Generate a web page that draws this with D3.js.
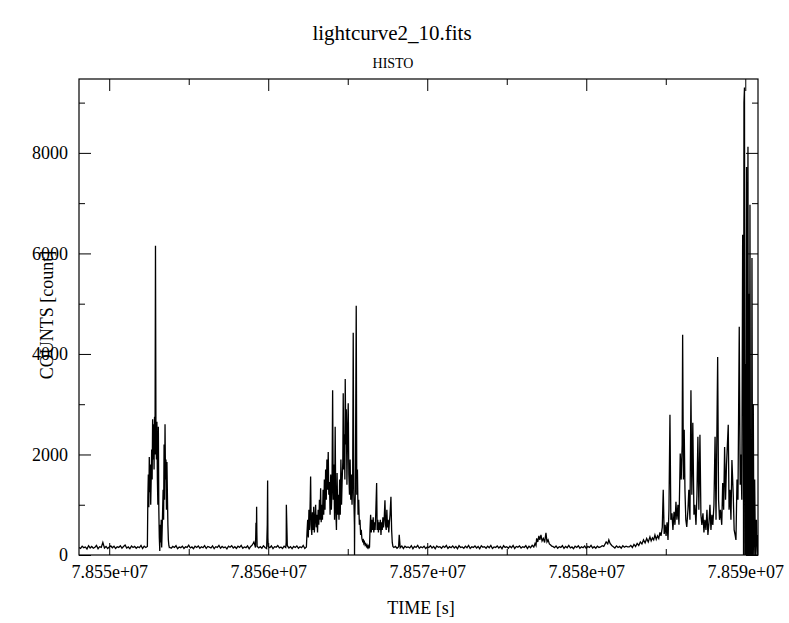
<!DOCTYPE html>
<html>
<head>
<meta charset="utf-8">
<script src="https://cdn.jsdelivr.net/npm/d3@7"></script>
<style>
  html, body { margin: 0; padding: 0; background: #fff; }
  svg { display: block; }
  svg text { font-family: "Liberation Serif", "Times New Roman", serif; fill: #000; }
</style>
</head>
<body>
<svg id="chart" width="789" height="623"></svg>
<script>
// ---------------- DATA ----------------
const chartTitle = "lightcurve2_10.fits";
const chartSubtitle = "HISTO";
const xAxisTitle = "TIME [s]";
const yAxisTitle = "COUNTS [count]";
const timeBase = 78550000; // seconds; offsets below are relative to this
const xDomain = [78548100, 78590800];
const yDomain = [0, 9470];
const xTickValues = [78550000, 78560000, 78570000, 78580000, 78590000];
const xTickLabels = ["7.855e+07", "7.856e+07", "7.857e+07", "7.858e+07", "7.859e+07"];
const xMinorValues = [78555000, 78565000, 78575000, 78585000];
const yTickValues = [0, 2000, 4000, 6000, 8000];
const yTickLabels = ["0", "2000", "4000", "6000", "8000"];
const yMinorValues = [1000, 3000, 5000, 7000, 9000];

// Quiet stretches: uniform bins (bin width quietStep s) starting at the given offset
const quietStep = 100;
const quiet1Start = -1900;
const quiet1 = [150,130,175,145,160,120,185,140,170,135,155,190,125,165,150,250,140,170,130,160,180,145,175,130,165,150,185,135,170,200,140,160,125,180,150,170,135,165,145,190,130,175,150];
const quiet2Start = 3800;
const quiet2 = [155,135,170,150,185,125,160,145,175,130,
  165,150,195,140,160,125,175,150,180,135,
  165,145,185,130,170,155,140,180,125,165,
  150,190,135,170,145,160,120,175,155,185,
  140,165,130,175,150,190,135,160,145,180,
  125,170,200,260,150,175,140,165,135,185,
  150,130,170,145,180,125,165,155,190,140,
  160,130,175,150,185,140,165,125,170,150,
  180,135,165,145,190,130];
const quiet3Start = 17900;
const quiet3 = [150,170,135,165,145,180,130,175,150,160,
  140,185,125,170,150,190,135,165,145,175,
  130,160,150,185,140,170,125,180,155,165,
  135,175,150,190,130,165,145,180,140,170,
  125,185,150,160,135,175,145,190,130,165,
  150,180,140,170,125,185,155,165,135,175,
  145,190,130,160,150,180,140,170,125,185,
  150,165,135,175,145,190,130,170,155,180,
  140,165,150,185,130,175,145,195,160];
const quiet4Start = 27900;
const quiet4 = [170,145,180,135,165,150,185,130,170,145,
  190,140,160,125,175,150,185,135,165,145,
  180,130,170,150,190,140,165,135,175,150,
  160,185,170];
const quiet5Start = 31700;
const quiet5 = [165,140,180,150,170,135,185,155,175,160];

// Active stretches: [time offset (s), counts]
const spikes = [[9230,640],[9255,300],[9270,960],[9285,450],[9940,600],[9962,1480],[9980,350],[11130,250],[11140,1000],[18238,400]];
const flare1 = [[2400,170],[2430,1150],[2460,1600],[2490,950],[2520,1950],[2550,1250],[2580,1800],[2610,1000],[2640,1500],[2670,2100],[2700,1500],[2730,2700],[2760,1900],[2790,2600],[2820,1700],[2850,2750],[2880,2000],[2910,6150],[2940,2300],[2970,1900],[3000,2650],[3030,1500],[3060,1000],[3090,2550],[3120,900],[3150,350],[3180,80],[3210,600],[3240,250],[3270,700],[3300,150],[3330,500],[3360,900],[3390,1300],[3420,700],[3450,2200],[3480,1100],[3510,2600],[3540,1500],[3570,1900],[3600,900],[3630,1850],[3660,1200],[3690,600],[3720,300],[3750,190],[3780,150]];
const flare2 = [[12400,160],[12440,450],[12480,700],[12520,350],[12560,900],[12600,500],[12640,1100],[12666,1560],[12700,600],[12740,400],[12780,850],[12820,500],[12860,960],[12900,450],[12940,700],[12980,1000],[13020,550],[13060,800],[13100,450],[13140,900],[13180,600],[13220,1100],[13260,700],[13295,1330],[13330,650],[13370,1000],[13410,700],[13450,1300],[13490,800],[13530,1500],[13570,900],[13610,1700],[13650,1100],[13690,1900],[13730,1300],[13773,2050],[13810,1200],[13850,1450],[13890,800],[13930,1600],[13970,900],[14010,1300],[14050,3280],[14090,1100],[14130,1800],[14170,700],[14210,2550],[14250,900],[14290,500],[14330,1630],[14370,800],[14410,1200],[14450,700],[14490,1500],[14530,800],[14570,1900],[14610,1000],[14650,1500],[14690,1850],[14716,3220],[14750,1700],[14790,2400],[14820,1500],[14842,3500],[14880,2200],[14910,2900],[14950,1400],[14990,2500],[15031,3020],[15070,1600],[15110,1200],[15150,1900],[15190,1100],[15230,1600],[15270,1000],[15310,1500],[15345,4420],[15380,1200],[15420,600],[15427,0],[15440,700],[15480,1300],[15534,4960],[15570,1200],[15610,1700],[15650,800],[15690,1100],[15730,600],[15770,700],[15810,400],[15850,500],[15890,330],[15930,280],[15970,320],[16010,230],[16050,260],[16090,200],[16130,220],[16170,170],[16210,200],[16250,150],[16290,180],[16330,140],[16370,160],[16400,500],[16440,800],[16480,450],[16520,700],[16560,500],[16600,750],[16640,450],[16680,650],[16720,500],[16760,800],[16817,1430],[16850,500],[16890,700],[16930,450],[16970,650],[17010,500],[17050,700],[17090,400],[17130,650],[17170,500],[17210,750],[17250,550],[17290,700],[17340,1090],[17380,600],[17420,500],[17460,900],[17500,550],[17540,700],[17580,450],[17620,650],[17660,800],[17717,1160],[17760,500],[17800,250],[17840,170]];
const bumpA = [[26780,230],[26840,190],[26880,330],[26950,260],[27020,380],[27080,300],[27150,400],[27220,280],[27300,330],[27380,250],[27465,440],[27530,260],[27600,300],[27680,220],[27760,200],[27850,170]];
const bumpB = [[31150,200],[31250,260],[31350,220],[31420,300],[31500,230],[31600,190]];
const rise = [[32700,160],[32800,190],[32900,150],[33000,210],[33100,170],[33200,230],[33300,190],[33400,260],[33500,220],[33600,300],[33700,240],[33800,330],[33900,260],[34004,360],[34080,280],[34160,340],[34240,300],[34319,400],[34400,310],[34480,380],[34560,330],[34633,450],[34700,380],[34780,550],[34841,1300],[34900,420],[34960,600],[35020,380],[35080,650],[35140,300],[35200,900],[35263,2790],[35320,700],[35389,830],[35450,500],[35520,860],[35577,600],[35640,1060],[35700,700],[35766,1000],[35830,600],[35910,2020],[35970,1500],[36030,2200],[36061,4380],[36110,1500],[36160,2490],[36206,1300],[36260,700],[36320,560],[36394,900],[36450,1300],[36520,700],[36583,3280],[36640,1200],[36700,2630],[36772,800],[36830,1000],[36900,600],[36960,1200],[37020,2350],[37080,900],[37149,2390],[37210,800],[37270,600],[37338,830],[37400,450],[37460,700],[37527,500],[37590,900],[37650,400],[37720,650],[37778,1000],[37840,500],[37900,800],[37960,600],[38030,1000],[38100,2350],[38160,700],[38263,3940],[38320,1100],[38380,700],[38440,900],[38520,600],[38580,1430],[38640,900],[38700,2150],[38760,1100],[38820,1800],[38929,2590],[38980,900],[39040,1300],[39099,700],[39160,1890],[39243,1200],[39300,500],[39360,400],[39413,300],[39480,1500],[39540,1100]];
const endBurst = [[39621,4540],[39680,1400],[39728,2000],[39780,1100],[39835,6370],[39870,5870],[39890,0],[39917,9000],[39950,9300],[39980,0],[40010,3800],[40043,0],[40080,7720],[40120,0],[40169,8120],[40200,0],[40232,5200],[40260,0],[40295,6970],[40330,0],[40358,2300],[40390,0],[40421,5910],[40460,0],[40503,3000],[40546,0],[40590,1500],[40640,0],[40700,700],[40750,0],[40798,400]];

// ---------------- DRAW ----------------
const margin = { left: 79, right: 758, top: 79, bottom: 555 };
const svg = d3.select("#chart");

const x = d3.scaleLinear().domain(xDomain).range([margin.left, margin.right]);
const y = d3.scaleLinear().domain(yDomain).range([margin.bottom, margin.top]);

function fromBins(start, arr) { return arr.map((c, i) => [start + i * quietStep, c]); }
const pairs = [].concat(
  fromBins(quiet1Start, quiet1), flare1,
  fromBins(quiet2Start, quiet2), spikes, flare2,
  fromBins(quiet3Start, quiet3), bumpA,
  fromBins(quiet4Start, quiet4), bumpB,
  fromBins(quiet5Start, quiet5), rise, endBurst);
const data = pairs.map(d => ({ t: timeBase + d[0], c: d[1] }))
  .sort((a, b) => a.t - b.t);

svg.append("clipPath").attr("id", "clip")
  .append("rect")
  .attr("x", margin.left).attr("y", margin.top)
  .attr("width", margin.right - margin.left)
  .attr("height", margin.bottom - margin.top);

const line = d3.line().x(d => x(d.t)).y(d => y(d.c));
svg.append("path")
  .datum(data)
  .attr("clip-path", "url(#clip)")
  .attr("fill", "none")
  .attr("stroke", "#000")
  .attr("stroke-width", 1.3)
  .attr("stroke-linejoin", "miter")
  .attr("d", line);

const MAJ = 12, MIN = 6;
function styleAxis(g) {
  g.attr("font-family", null).attr("font-size", null);
  g.select(".domain").remove();
  g.selectAll(".tick line").attr("stroke", "#000").attr("stroke-width", 1);
  g.selectAll("text").attr("fill", "#000")
    .style("font-family", '"Liberation Serif", "Times New Roman", serif')
    .style("font-size", "18px");
}

// bottom axis (major with labels, ticks inward)
svg.append("g").attr("transform", `translate(0,${margin.bottom})`)
  .call(d3.axisBottom(x).tickValues(xTickValues).tickSize(-MAJ).tickPadding(10)
    .tickFormat((d, i) => xTickLabels[i]))
  .call(styleAxis);
svg.append("g").attr("transform", `translate(0,${margin.bottom})`)
  .call(d3.axisBottom(x).tickValues(xMinorValues).tickSize(-MIN).tickFormat(""))
  .call(styleAxis);
// top axis
svg.append("g").attr("transform", `translate(0,${margin.top})`)
  .call(d3.axisTop(x).tickValues(xTickValues).tickSize(-MAJ).tickFormat(""))
  .call(styleAxis);
svg.append("g").attr("transform", `translate(0,${margin.top})`)
  .call(d3.axisTop(x).tickValues(xMinorValues).tickSize(-MIN).tickFormat(""))
  .call(styleAxis);
// left axis
svg.append("g").attr("transform", `translate(${margin.left},0)`)
  .call(d3.axisLeft(y).tickValues(yTickValues).tickSize(-MAJ).tickPadding(11)
    .tickFormat((d, i) => yTickLabels[i]))
  .call(styleAxis);
svg.append("g").attr("transform", `translate(${margin.left},0)`)
  .call(d3.axisLeft(y).tickValues(yMinorValues).tickSize(-MIN).tickFormat(""))
  .call(styleAxis);
// right axis
svg.append("g").attr("transform", `translate(${margin.right},0)`)
  .call(d3.axisRight(y).tickValues(yTickValues).tickSize(-MAJ).tickFormat(""))
  .call(styleAxis);
svg.append("g").attr("transform", `translate(${margin.right},0)`)
  .call(d3.axisRight(y).tickValues(yMinorValues).tickSize(-MIN).tickFormat(""))
  .call(styleAxis);

// frame
svg.append("rect")
  .attr("x", margin.left).attr("y", margin.top)
  .attr("width", margin.right - margin.left)
  .attr("height", margin.bottom - margin.top)
  .attr("fill", "none").attr("stroke", "#000").attr("stroke-width", 1.2);

// titles
svg.append("text").attr("x", 392).attr("y", 40).attr("text-anchor", "middle")
  .style("font-size", "21px").text(chartTitle);
svg.append("text").attr("x", 393).attr("y", 68).attr("text-anchor", "middle")
  .style("font-size", "14px").text(chartSubtitle);
svg.append("text").attr("x", 421).attr("y", 614).attr("text-anchor", "middle")
  .style("font-size", "18px").text(xAxisTitle);
svg.append("text").attr("transform", "translate(53,315) rotate(-90)").attr("text-anchor", "middle")
  .style("font-size", "18px").text(yAxisTitle);
</script>
</body>
</html>
